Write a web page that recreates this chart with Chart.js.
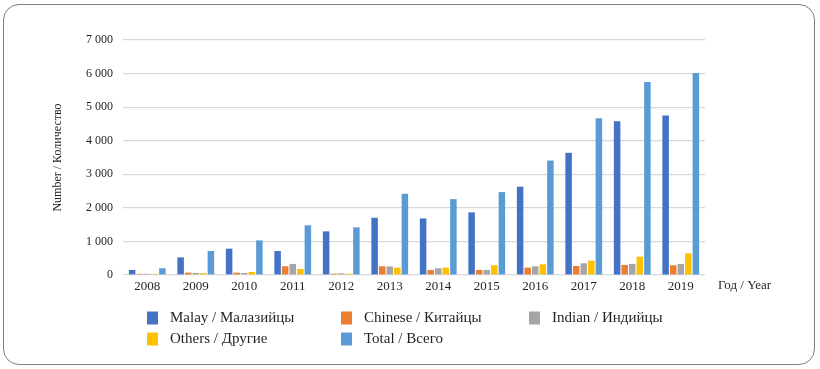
<!DOCTYPE html>
<html>
<head>
<meta charset="utf-8">
<script src="https://cdn.jsdelivr.net/npm/chart.js@4.4.1/dist/chart.umd.min.js"></script>
<style>
  html, body { margin: 0; padding: 0; background: #fff; }
  #wrap { position: relative; width: 820px; height: 369px; }
  #frame { position: absolute; left: 3px; top: 4px; width: 810px; height: 359px;
           border: 1.5px solid #7f7f7f; border-radius: 16px; pointer-events: none; }
  canvas { position: absolute; left: 0; top: 0; }
</style>
</head>
<body>
<div id="wrap">
  <canvas id="c" width="820" height="369"></canvas>
  <div id="frame"></div>
</div>
<script>
const years = ['2008','2009','2010','2011','2012','2013','2014','2015','2016','2017','2018','2019'];
const malay   = [150, 525, 785, 715, 1300, 1705, 1685, 1865, 2630, 3640, 4580, 4750];
const chinese = [35, 70, 70, 260, 40, 260, 150, 150, 220, 270, 300, 290];
const indian  = [35, 60, 60, 330, 50, 255, 200, 150, 260, 350, 330, 330];
const others  = [35, 55, 90, 180, 40, 220, 220, 290, 320, 425, 545, 645];
const total   = [200, 715, 1030, 1480, 1420, 2420, 2260, 2470, 3410, 4670, 5750, 6020];
const seriesNames = ['Malay / Малазийцы', 'Chinese / Китайцы', 'Indian / Индийцы', 'Others / Другие', 'Total / Всего'];
const seriesColors = ['#4472C4', '#ED7D31', '#A5A5A5', '#FFC000', '#5B9BD5'];
const yTicks = [0, 1000, 2000, 3000, 4000, 5000, 6000, 7000];
const yTitle = 'Number / Количество';
const xTitle = 'Год / Year';

const SERIF = "'Liberation Serif', serif";
const seriesData = [malay, chinese, indian, others, total];

function fmt(v) { return v === 0 ? '0' : String(v).replace(/\B(?=(\d{3})+(?!\d))/g, ' '); }

const legendPlugin = {
  id: 'customLegend',
  afterDraw(chart) {
    const ctx = chart.ctx;
    const pos = [[147, 318], [341, 318], [529, 318], [147, 339], [341, 339]];
    ctx.save();
    ctx.font = "15px 'Liberation Serif'";
    ctx.textBaseline = 'middle';
    ctx.textAlign = 'left';
    chart.data.datasets.forEach((ds, i) => {
      const [x, y] = pos[i];
      ctx.fillStyle = ds.backgroundColor;
      ctx.fillRect(x, y - 6.5, 11, 13);
      ctx.fillStyle = '#231f20';
      ctx.fillText(ds.label, x + 23, y);
    });
    ctx.font = "13px 'Liberation Serif'";
    ctx.fillText(xTitle, 718, 286);
    ctx.restore();
  }
};

new Chart(document.getElementById('c'), {
  type: 'bar',
  data: {
    labels: years,
    datasets: seriesData.map((d, i) => ({
      label: seriesNames[i],
      data: d,
      backgroundColor: seriesColors[i],
      borderWidth: 0,
      categoryPercentage: 0.78,
      barPercentage: 0.86
    }))
  },
  options: {
    responsive: false,
    animation: false,
    layout: { padding: { left: 44, right: 115, top: 40, bottom: 0 } },
    plugins: { legend: { display: false }, tooltip: { enabled: false } },
    scales: {
      x: {
        grid: { display: false, drawTicks: false },
        border: { display: false },
        ticks: { color: '#231f20', font: { family: SERIF, size: 13 }, padding: 4, maxRotation: 0 },
        afterFit(scale) { scale.height = 369 - 275; }
      },
      y: {
        min: 0, max: 7000,
        afterBuildTicks(scale) { scale.ticks = yTicks.map(v => ({ value: v })); },
        grid: { color: '#d9d9d9', lineWidth: 1.2, drawTicks: false },
        border: { display: false },
        ticks: { color: '#231f20', font: { family: SERIF, size: 12 }, padding: 10,
                 callback: v => fmt(v) },
        title: { display: true, text: yTitle, color: '#231f20',
                 font: { family: SERIF, size: 12 }, padding: { top: 7, bottom: 0 } },
        afterFit(scale) { scale.width = 123 - 44; }
      }
    }
  },
  plugins: [legendPlugin]
});
</script>
</body>
</html>
